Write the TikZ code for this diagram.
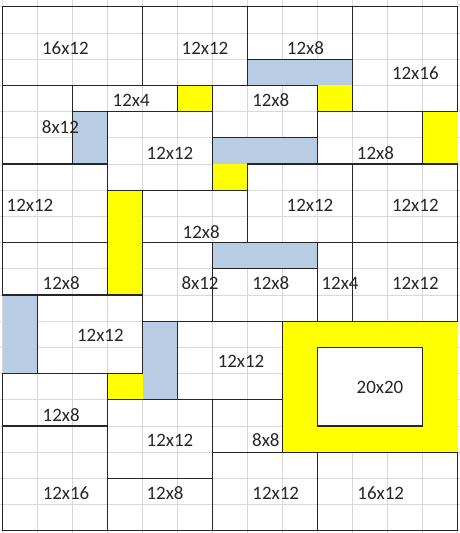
\documentclass[tikz,border=0pt]{standalone}
\usepackage{fontspec}
\setmainfont{Carlito}
\definecolor{padyellow}{RGB}{255,255,0}
\definecolor{padblue}{RGB}{184,204,228}
\definecolor{gridgray}{RGB}{217,217,217}
\begin{document}
\begin{tikzpicture}
[x=35bp,y=-26.2bp,
  gridline/.style={draw=gridgray,line width=0.8bp},
  blockdecorate/.style={draw=black!85,line width=1.2bp},
  yellowpad/.style={fill=padyellow},
  bluepad/.style={fill=padblue},
  sizelabel/.style={font=\fontsize{19}{22}\selectfont,text=black!85,inner sep=0pt}]
\useasboundingbox[fill=white] (-0.077,-0.256) rectangle (13.066,20.088);
%% squared paper
\foreach \c in {0,...,13} {
  \draw[gridline] (\c,-0.256) -- (\c,20.088);
}
\foreach \r in {0,...,20} {
  \draw[gridline] (-0.077,\r) -- (13.066,\r);
}
%% yellow and blue fillers
\foreach \x/\y/\w/\h in {5/3/1/1, 9/3/1/1, 12/4/1/2, 6/6/1/1, 3/7/1/4, 3/14/1/1, 8/12/5/5} {
  \fill[yellowpad] (\x,\y) rectangle ++(\w,\h);
}
\foreach \x/\y/\w/\h in {7/2/3/1, 2/4/1/2, 6/5/3/1, 6/9/3/1, 0/11/1/3, 4/12/1/3} {
  \fill[bluepad] (\x,\y) rectangle ++(\w,\h);
}
%% blocks
\fill[white] (9,13) rectangle ++(3,3);
\foreach \x/\y/\w/\h in {0/0/4/3, 4/0/3/3, 7/0/3/2, 10/0/3/4,
    2/3/3/1, 6/3/3/2, 0/3/2/3, 3/4/3/3, 9/4/3/2,
    0/6/3/3, 7/6/3/3, 10/6/3/3, 4/7/3/2,
    0/9/3/2, 4/9/2/3, 6/10/3/2, 9/9/1/3, 10/9/3/3,
    1/11/3/3, 5/12/3/3, 9/13/3/3,
    0/14/3/2, 3/15/3/3, 6/15/2/2,
    0/16/3/4, 3/18/3/2, 6/17/3/3, 9/17/4/3} {
  \draw[blockdecorate] (\x,\y) rectangle ++(\w,\h);
}
%% sizes
\foreach \nodename/\x/\y/\txt in {
    topa/1.79/1.58/16x12, topb/5.78/1.58/12x12, topc/8.65/1.58/12x8, topd/11.79/2.54/12x16,
    narrowa/3.67/3.56/12x4, midc/7.66/3.56/12x8, lefta/1.65/4.59/8x12,
    centera/4.78/5.58/12x12, righta/10.65/5.58/12x8,
    leftb/0.78/7.57/12x12, centerb/8.78/7.57/12x12, rightb/11.79/7.57/12x12,
    midd/5.67/8.59/12x8,
    leftc/1.67/10.55/12x8, tallb/5.64/10.55/8x12, mide/7.66/10.55/12x8,
    narrowb/9.64/10.55/12x4, rightc/11.79/10.55/12x12,
    leftd/2.79/12.53/12x12, centerc/6.81/13.55/12x12, framed/10.78/14.55/20x20,
    lefte/1.67/15.58/12x8, centerd/4.78/16.54/12x12, smalla/7.52/16.54/8x8,
    bota/1.81/18.56/12x16, botb/4.64/18.56/12x8, botc/7.8/18.56/12x12, botd/10.8/18.56/16x12} {
  \node (\nodename) at (\x,\y) [sizelabel] {\txt};
}
\end{tikzpicture}
\end{document}
